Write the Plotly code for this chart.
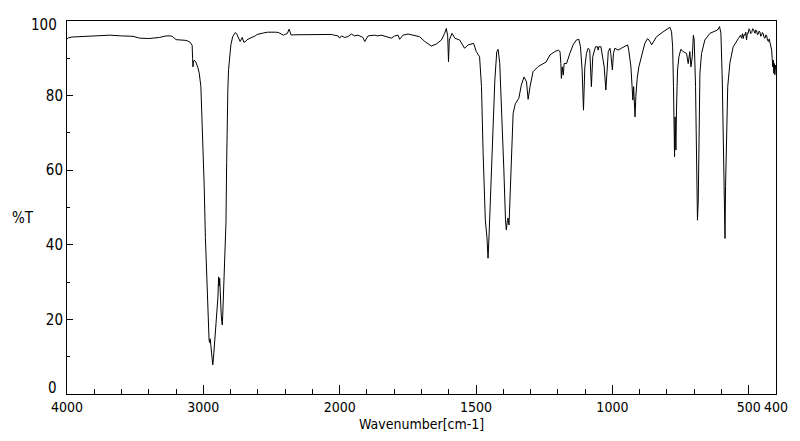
import plotly.graph_objects as go

# Wavenumber (cm-1) and transmittance (%T)
wavenumber = [
    4000, 3990, 3964, 3900, 3855, 3800, 3750, 3685, 3600, 3516, 3467, 3400, 3321, 3273, 3240, 3225,
    3200, 3160, 3127, 3100, 3091, 3082, 3079, 3076, 3073, 3067, 3055, 3040, 3030, 3018, 3011, 3000,
    2994, 2985, 2975, 2968, 2962, 2958, 2954, 2950, 2945, 2938, 2931, 2926, 2918, 2910, 2900, 2893,
    2888, 2884, 2880, 2876, 2870, 2865, 2861, 2858, 2851, 2843, 2834, 2829, 2825, 2820, 2815, 2805,
    2798, 2785, 2765, 2755, 2740, 2730, 2720, 2715, 2703, 2690, 2679, 2660, 2643, 2620, 2606, 2580,
    2558, 2530, 2497, 2470, 2449, 2425, 2412, 2395, 2385, 2371, 2362, 2356, 2340, 2300, 2254, 2200,
    2158, 2100, 2085, 2061, 2040, 2025, 2012, 2000,
    1994, 1982, 1970, 1957, 1945, 1933, 1920, 1915, 1908, 1900, 1896, 1872, 1860, 1847, 1835, 1823,
    1811, 1798, 1786, 1780, 1774, 1768, 1749, 1725, 1707, 1688, 1676, 1664, 1646, 1627, 1615, 1609,
    1604, 1601, 1598, 1588, 1578, 1560, 1542, 1529, 1509, 1499, 1487, 1480, 1474, 1466, 1460, 1456,
    1452, 1441, 1431, 1424, 1419, 1413, 1407, 1398, 1392, 1389, 1385, 1383, 1379, 1373, 1364, 1356,
    1343, 1334, 1324, 1315, 1309, 1302, 1291, 1272, 1254, 1243, 1229, 1211, 1198, 1192, 1189, 1187,
    1184, 1180, 1177, 1168, 1156, 1144, 1132, 1123, 1117, 1111, 1106, 1101, 1095, 1089, 1083, 1079,
    1077, 1072, 1067, 1062, 1055, 1052, 1050, 1042, 1034, 1030, 1024, 1020, 1015, 1009, 1006, 1000,
    996, 991, 979, 967, 954, 944, 940, 932, 927, 925, 922, 920, 917, 914, 909, 903,
    893, 881, 871, 862, 856, 838, 814, 789, 783, 779, 776, 774, 772, 770, 767, 765,
    761, 756, 749, 740, 728, 722, 716, 712, 707, 703, 700, 695, 691, 688, 685, 683,
    679, 673, 661, 642, 624, 614, 607, 602, 597, 593, 590, 587, 585, 581, 577, 569,
    557, 538, 530, 526, 523, 520, 517, 514, 511, 508, 505, 502, 499, 496, 493, 489,
    486, 483, 480, 477, 474, 471, 468, 465, 462, 459, 456, 453, 450, 447, 444, 440,
    437, 434, 431, 428, 425, 422, 419, 416, 414, 412, 410, 408, 406, 404, 402, 400,
]
transmittance = [
    95.2, 95.5, 95.7, 95.8, 95.8, 96.0, 96.1, 96.2, 96.0, 95.9, 95.4, 95.3, 95.6, 96.0, 96.0, 95.8,
    95.0, 94.9, 94.8, 94.4, 94.0, 93.5, 90.0, 87.7, 89.0, 89.5, 89.0, 87.5, 86.0, 82.4, 76.0, 66.0,
    56.0, 42.0, 30.0, 22.0, 17.0, 14.5, 13.8, 14.8, 13.0, 10.0, 7.8, 9.5, 13.0, 17.0, 22.0, 26.0,
    31.4, 29.0, 31.0, 26.0, 22.0, 19.5, 18.5, 21.0, 27.0, 36.0, 46.0, 62.0, 74.0, 82.0, 87.0, 91.5,
    93.6, 95.8, 96.9, 96.5, 95.0, 94.5, 95.2, 95.6, 94.3, 94.5, 95.0, 95.3, 95.5, 96.0, 96.4, 96.7,
    96.8, 97.0, 97.1, 97.0, 96.9, 96.5, 96.2, 96.5, 96.6, 97.8, 96.8, 96.2, 96.3, 96.3, 96.3, 96.4,
    96.4, 96.5, 96.5, 96.4, 96.2, 96.2, 96.0, 95.4,
    96.0, 95.6, 95.8, 96.5, 96.0, 96.2, 95.8, 95.6, 94.5, 95.6, 96.0, 96.2, 96.0, 96.2, 96.0, 95.8,
    95.4, 96.0, 96.2, 95.1, 95.8, 96.2, 96.5, 96.2, 95.8, 94.5, 93.8, 93.3, 93.8, 94.9, 96.7, 98.0,
    96.0, 89.1, 94.9, 96.7, 95.4, 94.9, 92.7, 93.6, 94.0, 91.8, 90.4, 82.4, 64.5, 46.7, 42.0, 36.4,
    43.0, 64.5, 84.2, 91.8, 92.4, 88.6, 78.8, 60.1, 46.7, 44.0, 46.5, 47.2, 45.3, 55.6, 75.2, 77.8,
    79.3, 82.8, 85.0, 83.7, 79.0, 82.4, 86.4, 87.8, 88.6, 89.0, 90.9, 91.8, 92.2, 91.8, 88.6, 84.6,
    87.7, 85.5, 88.6, 88.6, 91.3, 93.6, 94.9, 95.1, 93.1, 86.9, 76.1, 87.7, 91.3, 92.7, 92.2, 87.7,
    82.4, 90.4, 92.2, 93.1, 93.1, 92.2, 93.1, 93.1, 89.5, 87.7, 81.5, 86.9, 91.8, 92.7, 91.3, 86.9,
    91.3, 92.7, 92.2, 92.7, 93.3, 93.6, 92.2, 87.7, 81.5, 78.8, 82.4, 77.0, 74.3, 79.7, 84.6, 87.7,
    90.4, 94.0, 95.3, 94.5, 93.6, 95.8, 97.1, 98.3, 97.1, 93.1, 82.4, 68.0, 63.6, 74.3, 65.4, 76.1,
    86.9, 90.4, 92.4, 91.8, 91.3, 88.6, 91.8, 87.7, 90.4, 96.2, 94.9, 82.4, 62.7, 46.6, 52.0, 72.6,
    86.0, 91.3, 94.9, 96.7, 97.3, 97.6, 98.5, 96.7, 84.2, 62.7, 55.6, 41.7, 55.6, 69.0, 82.4, 88.8,
    93.1, 95.3, 96.2, 95.4, 96.6, 95.3, 96.4, 96.2, 97.0, 94.9, 96.8, 96.7, 97.9, 97.6, 96.6, 96.9,
    97.9, 97.8, 96.8, 96.7, 97.6, 97.4, 96.3, 96.5, 97.3, 97.1, 95.9, 96.2, 96.9, 96.7, 95.6, 95.4,
    96.3, 96.0, 94.8, 94.5, 95.2, 94.0, 93.4, 92.2, 90.0, 87.7, 89.5, 86.0, 88.6, 85.6, 88.2, 86.9,
]

major_wn = [4000, 3000, 2000, 1500, 1000, 500, 400]
major_labels = ["4000", "3000", "2000", "1500", "1000", "500", "400"]
minor_wn = [3800, 3600, 3400, 3200, 2800, 2600, 2400, 2200,
            1900, 1800, 1700, 1600, 1400, 1300, 1200, 1100,
            900, 800, 700, 600]
y_major = [0, 20, 40, 60, 80, 100]
y_minor = [10, 30, 50, 70, 90]
x_title = "Wavenumber[cm-1]"
y_title = "%T"


def axis_pos(w):
    # Instrument scale: 4000-2000 compressed by a factor of two relative to 2000-400
    return (4000 - w) / 2 if w >= 2000 else 1000 + (2000 - w)


xs = [axis_pos(w) for w in wavenumber]
font_family = "DejaVu Sans Condensed, Liberation Sans, Arial, sans-serif"
black = "black"

fig = go.Figure()
fig.add_trace(go.Scatter(x=xs, y=transmittance, mode="lines",
                         line=dict(color=black, width=1), hoverinfo="skip",
                         showlegend=False))

fig.update_layout(
    width=800, height=441,
    margin=dict(l=67, r=22, t=21, b=47),
    paper_bgcolor="white", plot_bgcolor="white",
    font=dict(family=font_family, size=15, color=black),
    showlegend=False,
)
fig.update_xaxes(
    range=[axis_pos(4000), axis_pos(400)],
    tickmode="array", tickvals=[axis_pos(w) for w in major_wn], ticktext=major_labels,
    tickangle=0, tickfont=dict(size=14),
    ticks="inside", ticklen=9, tickwidth=1, tickcolor=black,
    minor=dict(tickmode="array", tickvals=[axis_pos(w) for w in minor_wn],
               ticks="inside", ticklen=5, tickwidth=1, tickcolor=black),
    showline=True, linecolor=black, linewidth=1, mirror=True,
    showgrid=False, zeroline=False,
)
# 0 and 100 labels sit inside the axis span in the reference, drawn as annotations below
y_ticktext = ["" if v in (0, 100) else str(v) for v in y_major]
fig.update_yaxes(
    range=[0, 100],
    tickmode="array", tickvals=y_major, ticktext=y_ticktext,
    tickfont=dict(size=15),
    ticks="inside", ticklen=6, tickwidth=1, tickcolor=black,
    minor=dict(tickmode="array", tickvals=y_minor,
               ticks="inside", ticklen=3, tickwidth=1, tickcolor=black),
    showline=True, linecolor=black, linewidth=1, mirror=True,
    showgrid=False, zeroline=False,
)
fig.add_annotation(text=str(y_major[0]), xref="paper", yref="y", x=-0.011, y=y_major[0],
                   showarrow=False, xanchor="right", yanchor="middle", yshift=6,
                   font=dict(size=15, color=black))
fig.add_annotation(text=str(y_major[-1]), xref="paper", yref="y", x=-0.011, y=y_major[-1],
                   showarrow=False, xanchor="right", yanchor="middle", yshift=-4,
                   font=dict(size=15, color=black))
fig.add_annotation(text=y_title, xref="paper", yref="paper", x=-0.062, y=0.473,
                   showarrow=False, xanchor="center", yanchor="middle",
                   font=dict(size=15, color=black))
fig.add_annotation(text=x_title, xref="paper", yref="paper", x=0.5, y=-0.081,
                   showarrow=False, xanchor="center", yanchor="middle",
                   font=dict(size=14, color=black))

fig.write_html("out.html")
